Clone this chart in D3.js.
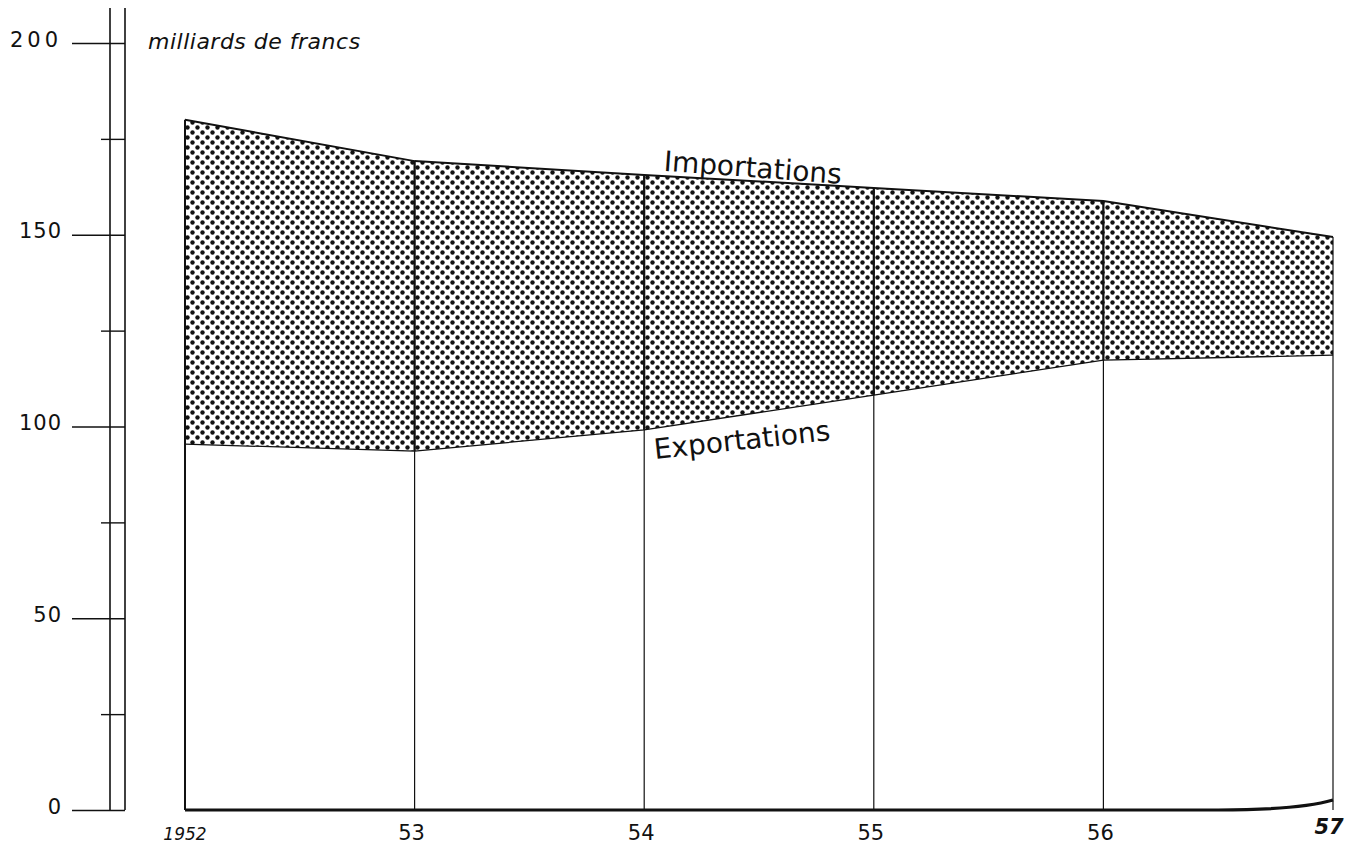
<!DOCTYPE html>
<html>
<head>
<meta charset="utf-8">
<script src="https://cdn.jsdelivr.net/npm/d3@7"></script>
<style>
  body { margin: 0; background: #fff; }
  text { font-family: "DejaVu Sans", sans-serif; fill: #111; }
</style>
</head>
<body>
<svg id="chart" width="1349" height="846"></svg>
<script>
// values (milliards de francs)
const years = [1952, 1953, 1954, 1955, 1956, 1957];
const yearLabels = ['1952', '53', '54', '55', '56', '57'];
const importations = [180, 169.2, 165.6, 162.2, 158.8, 149.4];
const exportations = [95.4, 93.6, 99.1, 108.2, 117.3, 118.6];
const majorTicks = [0, 50, 100, 150, 200];
const majorLabels = ['0', '50', '100', '150', '200'];
const minorTicks = [25, 75, 125, 175];

const svg = d3.select('#chart');

const x = d3.scaleLinear().domain([1952, 1957]).range([185, 1333]);
const y = d3.scaleLinear().domain([0, 200]).range([810, 43]);

const data = years.map((yr, i) => ({ year: yr, imp: importations[i], exp: exportations[i] }));

// halftone dots
const defs = svg.append('defs');
const pat = defs.append('pattern')
    .attr('id', 'dots')
    .attr('patternUnits', 'userSpaceOnUse')
    .attr('width', 10).attr('height', 10);
pat.append('rect').attr('width', 10).attr('height', 10).attr('fill', '#fff');
pat.append('circle').attr('cx', 2.5).attr('cy', 2.5).attr('r', 2.2).attr('fill', '#111');
pat.append('circle').attr('cx', 7.5).attr('cy', 7.5).attr('r', 2.2).attr('fill', '#111');

svg.append('path')
    .datum(data)
    .attr('fill', 'url(#dots)')
    .attr('d', d3.area()
        .x(d => x(d.year))
        .y0(d => y(d.exp))
        .y1(d => y(d.imp)));

// year verticals: thin below, heavier inside the dotted band
const last = data.length - 1;
svg.append('g')
    .selectAll('line')
    .data(data)
    .join('line')
    .attr('x1', d => x(d.year)).attr('x2', d => x(d.year))
    .attr('y1', y(0)).attr('y2', d => y(d.imp))
    .attr('stroke', '#111')
    .attr('stroke-width', (d, i) => i === 0 ? 2 : 1.2);

svg.append('g')
    .selectAll('line')
    .data(data.filter((d, i) => i > 0 && i < last))
    .join('line')
    .attr('x1', d => x(d.year)).attr('x2', d => x(d.year))
    .attr('y1', d => y(d.exp)).attr('y2', d => y(d.imp))
    .attr('stroke', '#111')
    .attr('stroke-width', 2.2);

svg.append('path')
    .datum(data)
    .attr('fill', 'none').attr('stroke', '#111').attr('stroke-width', 2)
    .attr('d', d3.line().x(d => x(d.year)).y(d => y(d.imp)));

svg.append('path')
    .datum(data)
    .attr('fill', 'none').attr('stroke', '#111').attr('stroke-width', 1.3)
    .attr('d', d3.line().x(d => x(d.year)).y(d => y(d.exp)));

// baseline with the small curl at the end
const bl = d3.path();
bl.moveTo(x(1952), y(0));
bl.lineTo(x(1956.5), y(0));
bl.quadraticCurveTo(x(1956.85), y(0), x(1957), y(2.6));
svg.append('path')
    .attr('d', bl.toString())
    .attr('fill', 'none').attr('stroke', '#111').attr('stroke-width', 3.2);

// y axis: double rule
const axisX = 125;
[110, 125].forEach(ax => {
    svg.append('line')
        .attr('x1', ax).attr('x2', ax)
        .attr('y1', 8).attr('y2', y(0))
        .attr('stroke', '#111').attr('stroke-width', 1.6);
});

const majorAxis = svg.append('g')
    .attr('transform', `translate(${axisX},0)`)
    .call(d3.axisLeft(y).tickValues(majorTicks).tickSize(53).tickPadding(10)
        .tickFormat((d, i) => majorLabels[i]));
majorAxis.select('.domain').remove();
majorAxis.selectAll('line').attr('stroke', '#111').attr('stroke-width', 1.4);
majorAxis.selectAll('text')
    .attr('font-size', 21)
    .attr('dy', '0.15em')
    .style('letter-spacing', d => d === 200 ? '4px' : '1px')
    .style('font-family', '"DejaVu Sans", sans-serif');

const minorAxis = svg.append('g')
    .attr('transform', `translate(${axisX},0)`)
    .call(d3.axisLeft(y).tickValues(minorTicks).tickSize(24).tickFormat(''));
minorAxis.select('.domain').remove();
minorAxis.selectAll('line').attr('stroke', '#111').attr('stroke-width', 1.4);

// unit label
svg.append('text')
    .attr('x', 148).attr('y', 49)
    .attr('font-size', 22)
    .attr('font-style', 'italic')
    .style('letter-spacing', '0.5px')
    .text('milliards  de  francs');

// x labels
svg.append('g')
    .selectAll('text')
    .data(years)
    .join('text')
    .attr('x', (d, i) => x(d) + (i === 0 ? 0 : (i === last ? -4 : -3)))
    .attr('y', (d, i) => i === last ? 834 : 840)
    .attr('text-anchor', 'middle')
    .attr('font-size', (d, i) => i === 0 ? 17 : 21)
    .attr('font-style', (d, i) => (i === 0 || i === last) ? 'italic' : 'normal')
    .attr('font-weight', (d, i) => i === last ? 'bold' : 'normal')
    .text((d, i) => yearLabels[i]);

// series labels
svg.append('text')
    .attr('transform', `translate(${x(1954.47)},${y(165)}) rotate(4.2)`)
    .attr('text-anchor', 'middle')
    .attr('font-size', 28)
    .text('Importations');

svg.append('text')
    .attr('transform', `translate(${x(1954.43)},${y(94)}) rotate(-6.2)`)
    .attr('text-anchor', 'middle')
    .attr('font-size', 28)
    .text('Exportations');
</script>
</body>
</html>
